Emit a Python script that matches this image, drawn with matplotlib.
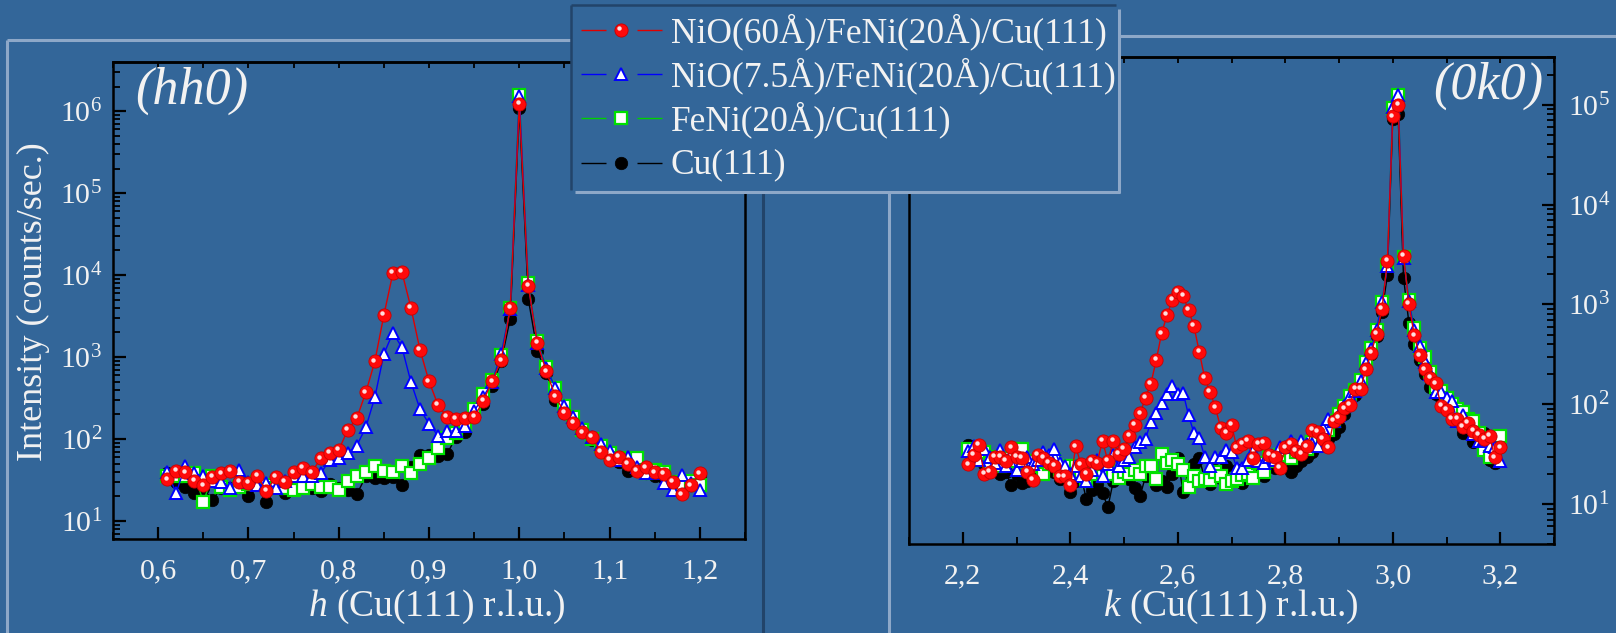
import matplotlib
matplotlib.use('Agg')
import matplotlib.pyplot as plt
import numpy as np
from matplotlib.lines import Line2D
from matplotlib.patches import Rectangle
from matplotlib.transforms import offset_copy
from matplotlib.ticker import LogLocator, NullFormatter, FuncFormatter, MultipleLocator

# ---------------- data ----------------
h_start, h_stop, h_step = 0.61, 1.20, 0.01
k_start, k_stop, k_step = 2.21, 3.20, 0.01

red_hh0 = [32, 41, 39, 31, 27, 34, 38, 41, 30, 29,
           35, 23, 34, 30, 39, 44, 39, 58, 67, 73,
           129, 179, 369, 885, 3240, 10570, 10900, 3980, 1230, 505,
           260, 184, 174, 179, 184, 291, 505, 910, 3980, 1.22e6,
           7350, 1480, 667, 330, 210, 158, 120, 107, 70, 56,
           61, 50, 41, 45, 39, 37, 30, 21, 27, 38]
blue_hh0 = [39, 22, 47, 38, 35, 31, 30, 25, 42, 30,
            27, 29, 25, 31, 35, 35, 35, 38, 55, 59,
            68, 83, 138, 321, 1088, 1970, 1313, 494, 231, 153,
            109, 125, 125, 142, 220, 324, 500, 1090, 3900, 1.54e6,
            7600, 1500, 733, 417, 249, 184, 135, 105, 87, 72,
            55, 60, 46, 38, 38, 29, 24, 36, 29, 24]
green_hh0 = [35, 35, 35, 38, 17, 35, 26, 24, 26, 28,
             30, 27, 25, 25, 24, 25, 28, 26, 26, 24,
             31, 35, 39, 47, 41, 40, 47, 38, 50, 58,
             77, 102, 117, 148, 231, 352, 525, 1070, 4000, 1.6e6,
             8000, 1550, 760, 420, 255, 185, 130, 100, 82, 68,
             58, 55, 58, 38, 42, 40, 30, 27, 31, 27]
black_hh0 = [38, 30, 26, 22, 25, 18, 25, 25, 26, 20,
             30, 17, 26, 22, 26, 26, 25, 23, 28, 25,
             24, 21, 35, 33, 33, 34, 27, 46, 64, 64,
             62, 65, 107, 123, 238, 266, 446, 885, 2950, 1.1e6,
             5100, 1170, 637, 300, 206, 158, 129, 97, 73, 61,
             53, 41, 43, 38, 35, 33, 30, 27, 27, 35]

red_0k0 = [25, 31, 39, 20, 21, 30, 30, 27, 37, 30,
           29, 21, 17.5, 31, 29, 26, 24, 19, 19, 15.5,
           38, 25, 20, 27, 26, 43, 27, 43, 32, 36,
           48, 62, 81, 117, 161, 278, 513, 782, 1105, 1340,
           1212, 878, 612, 336, 185, 134, 93, 58, 52, 62,
           37, 40, 43, 29, 40, 41, 31, 30, 23, 37,
           40, 34, 32, 38, 55, 53, 45, 37, 68, 74,
           91, 98, 144, 143, 224, 329, 509, 905, 2710, 76400,
           100000, 3090, 1020, 490, 309, 224, 185, 162, 96, 88,
           72, 71, 59, 65, 54, 49, 45, 48, 29.5, 37]
blue_0k0 = [34, 38, 28, 36, 30, 26, 35, 24, 31, 22,
            27, 30, 25, 28, 33, 31, 36, 26, 24, 20,
            24, 19, 17, 22, 28, 19, 25, 31, 24, 28,
            30, 37, 42, 45, 67, 81, 102, 128, 152, 128,
            131, 78, 52, 46, 30, 24, 30, 30, 35, 33,
            23, 23, 28, 34, 27, 26, 30, 28, 37, 37,
            43, 38, 43, 40, 40, 38, 58, 71, 68, 79,
            96, 121, 136, 171, 261, 360, 560, 1050, 2400, 95000,
            125000, 2950, 1080, 560, 380, 263, 200, 132, 132, 117,
            107, 68, 79, 60, 50, 43, 45, 38, 37, 27]
green_0k0 = [36, 32, 28, 33, 26, 30, 24, 29, 27, 36,
             36, 22, 27, 24, 20, 25, 28, 22, 23, 24,
             24, 21, 17, 20, 22, 19, 23, 20, 18.5, 21,
             20, 22, 20, 24, 24, 18, 32, 26, 28, 25,
             22, 15, 19, 17, 18, 17.5, 21, 19, 16, 17,
             18, 19.5, 20, 18.5, 26, 21, 30, 27, 31, 35,
             29, 33, 37, 36, 42, 46, 48, 55, 68, 80,
             97, 120, 140, 175, 265, 370, 560, 1060, 2500, 93000,
             125000, 3000, 1100, 580, 370, 295, 209, 150, 135, 115,
             100, 90, 83, 72, 68, 52, 35, 30, 38, 48]
black_0k0 = [39, 33, 28, 25, 24, 22, 20, 21, 15.5, 20,
             16.5, 17, 22, 20, 24, 22, 21, 18, 20, 13.3,
             17, 19, 11.2, 14, 16, 13, 9.3, 17, 21, 22,
             18, 14.7, 12.1, 19, 22, 15.5, 17, 15, 20, 29,
             13.3, 22, 25, 29, 18, 16, 22, 18.5, 24, 17,
             22, 16.5, 19, 24, 22, 19, 26, 23, 23, 27,
             21, 24, 27, 30, 33, 38, 42, 45, 50, 60,
             80, 100, 125, 160, 230, 320, 480, 850, 1950, 72000,
             81000, 1860, 656, 400, 280, 200, 150, 126, 115, 100,
             89, 78, 52, 60, 42, 50, 52, 28, 26, 37]

labels = ['NiO(60Å)/FeNi(20Å)/Cu(111)', 'NiO(7.5Å)/FeNi(20Å)/Cu(111)',
          'FeNi(20Å)/Cu(111)', 'Cu(111)']

h_vals = np.round(np.arange(h_start, h_stop + h_step / 2, h_step), 2)
k_vals = np.round(np.arange(k_start, k_stop + k_step / 2, k_step), 2)

# ---------------- style ----------------
BG = '#336699'
TXT = '#f2f2f2'
plt.rcParams.update({
    'font.family': ['Liberation Serif', 'DejaVu Serif'],
    'mathtext.fontset': 'custom',
    'mathtext.rm': 'Liberation Serif',
    'mathtext.it': 'Liberation Serif:italic',
    'mathtext.bf': 'Liberation Serif:bold',
})

W, H = 1616, 633
fig = plt.figure(figsize=(W / 100, H / 100), dpi=100, facecolor=BG)


def fx(x):
    return x / W


def fy(y):
    return 1 - y / H


def rect(x0, y0, x1, y1):
    return [fx(x0), fy(y1), (x1 - x0) / W, (y1 - y0) / H]


styles = {
    'red': dict(marker='o', ms=9.5, mfc='#ff0a0a', mec='#c80000', mew=0.6, color='#e00000', lw=1.0),
    'blue': dict(marker='^', ms=9, mfc='white', mec='#0000ff', mew=1.4, color='#0000ff', lw=1.0),
    'green': dict(marker='s', ms=8, mfc='white', mec='#00e000', mew=1.6, color='#00d000', lw=1.0),
    'black': dict(marker='o', ms=9, mfc='black', mec='black', mew=0.5, color='black', lw=1.0),
}


def highlight(ax, x, y, z):
    tr = offset_copy(ax.transData, fig=fig, x=-1.6, y=1.8, units='dots')
    ax.plot(x, y, ls='none', marker='o', ms=3.2, mfc='#ffdede', mec='none',
            transform=tr, zorder=z + 0.1)


def draw_panel(ax, x, red, blue, green, black):
    ax.plot(x, black, zorder=2, **styles['black'])
    ax.plot(x, green, zorder=3, **styles['green'])
    ax.plot(x, blue, zorder=4, **styles['blue'])
    ax.plot(x, red, zorder=5, **styles['red'])
    highlight(ax, x, red, 5)
    ax.set_yscale('log')
    ax.set_facecolor('none')
    for s in ax.spines.values():
        s.set_linewidth(1.8)
        s.set_color('black')
    ax.yaxis.set_major_locator(LogLocator(base=10, numticks=20))
    ax.yaxis.set_minor_locator(LogLocator(base=10, subs=np.arange(2, 10), numticks=20))
    ax.yaxis.set_minor_formatter(NullFormatter())
    ax.yaxis.set_major_formatter(FuncFormatter(
        lambda v, p: r'$\mathregular{10^{%d}}$' % int(round(np.log10(v)))))
    ax.xaxis.set_major_formatter(FuncFormatter(lambda v, p: f'{v:.1f}'.replace('.', ',')))
    ax.tick_params(axis='both', which='major', direction='in', length=9, width=1.6,
                   colors='black', labelcolor=TXT, labelsize=21.5)
    ax.tick_params(axis='both', which='minor', direction='in', length=5, width=1.3,
                   colors='black')
    ax.tick_params(axis='x', which='both', top=False, pad=14)


# left panel
axL = fig.add_axes(rect(113, 62, 745, 539))
draw_panel(axL, h_vals, red_hh0, blue_hh0, green_hh0, black_hh0)
axL.set_xlim(0.55, 1.25)
axL.set_ylim(6, 4.0e6)
axL.xaxis.set_major_locator(MultipleLocator(0.1))
axL.xaxis.set_minor_locator(MultipleLocator(0.05))
axL.tick_params(axis='y', which='both', left=True, right=False, pad=8)
secL = axL.secondary_xaxis('top')
secL.xaxis.set_major_locator(MultipleLocator(0.05))
secL.tick_params(direction='in', length=4, width=1.3, labeltop=False, colors='black')
secL.spines['top'].set_linewidth(1.8)

# right panel
axR = fig.add_axes(rect(909, 57, 1554, 544))
draw_panel(axR, k_vals, red_0k0, blue_0k0, green_0k0, black_0k0)
axR.set_xlim(2.1, 3.3)
axR.set_ylim(4, 3.0e5)
axR.xaxis.set_major_locator(MultipleLocator(0.2))
axR.xaxis.set_minor_locator(MultipleLocator(0.1))
axR.yaxis.tick_right()
axR.tick_params(axis='y', which='both', left=False, right=True, labelleft=False,
                labelright=True, pad=10)
secR = axR.secondary_xaxis('top')
secR.xaxis.set_major_locator(MultipleLocator(0.1))
secR.tick_params(direction='in', length=4, width=1.3, labeltop=False, colors='black')
secR.spines['top'].set_linewidth(1.8)

# axis labels and panel labels
fig.text(fx(33), fy(302), 'Intensity (counts/sec.)', rotation=90, ha='center',
         va='center', color=TXT, fontsize=26)
fig.text(fx(437), fy(607), r'$h$ (Cu(111) r.l.u.)', ha='center', va='center',
         color=TXT, fontsize=27)
fig.text(fx(1231), fy(607), r'$k$ (Cu(111) r.l.u.)', ha='center', va='center',
         color=TXT, fontsize=27)
fig.text(fx(135), fy(91), '(hh0)', ha='left', va='center', color=TXT,
         fontsize=37.5, style='italic')
fig.text(fx(1543), fy(86), '(0k0)', ha='right', va='center', color=TXT,
         fontsize=37.5, style='italic')

# frame lines
LIGHT = '#8ea8c8'
DARK = '#22446a'


def fline(xs, ys, color, lw, z):
    fig.add_artist(Line2D([fx(v) for v in xs], [fy(v) for v in ys], color=color,
                          lw=lw, transform=fig.transFigure, zorder=z,
                          solid_capstyle='butt'))


fline([7, 7], [40, 633], LIGHT, 2.2, 1)
fline([7, 580], [40, 40], LIGHT, 2.2, 1)
fline([1110, 1616], [36, 36], LIGHT, 2.2, 1)
fline([889, 889], [185, 633], LIGHT, 2.2, 1)
fline([763, 763], [185, 633], DARK, 2.2, 1)

# legend box (opaque, bevelled)
fig.add_artist(Rectangle((fx(571), fy(192)), (1119 - 571) / W, (192 - 5) / H,
                         transform=fig.transFigure, facecolor=BG, edgecolor='none',
                         zorder=6))
fline([571, 1116], [5, 5], DARK, 1.8, 7)
fline([571, 571], [5, 190], DARK, 1.8, 7)
fline([1119, 1119], [9, 193], LIGHT, 2.2, 7)
fline([575, 1120], [192, 192], LIGHT, 2.2, 7)

row_y = [30, 74, 118, 163]
keys = ['red', 'blue', 'green', 'black']
for yy, key, lab in zip(row_y, keys, labels):
    st = styles[key]
    fline([581, 606], [yy, yy], st['color'], 1.0, 8)
    fline([637, 662], [yy, yy], st['color'], 1.0, 8)
    fig.add_artist(Line2D([fx(621)], [fy(yy)], ls='none', marker=st['marker'],
                          ms=st['ms'], mfc=st['mfc'], mec=st['mec'], mew=st['mew'],
                          transform=fig.transFigure, zorder=8))
    if key == 'red':
        fig.add_artist(Line2D([fx(619.4)], [fy(yy - 1.8)], ls='none', marker='o',
                              ms=3.2, mfc='#ffdede', mec='none',
                              transform=fig.transFigure, zorder=9))
    fig.text(fx(671), fy(yy + 2), lab, ha='left', va='center', color=TXT,
             fontsize=25.5, zorder=9)

fig.savefig('out.png', dpi=100, facecolor=BG)
